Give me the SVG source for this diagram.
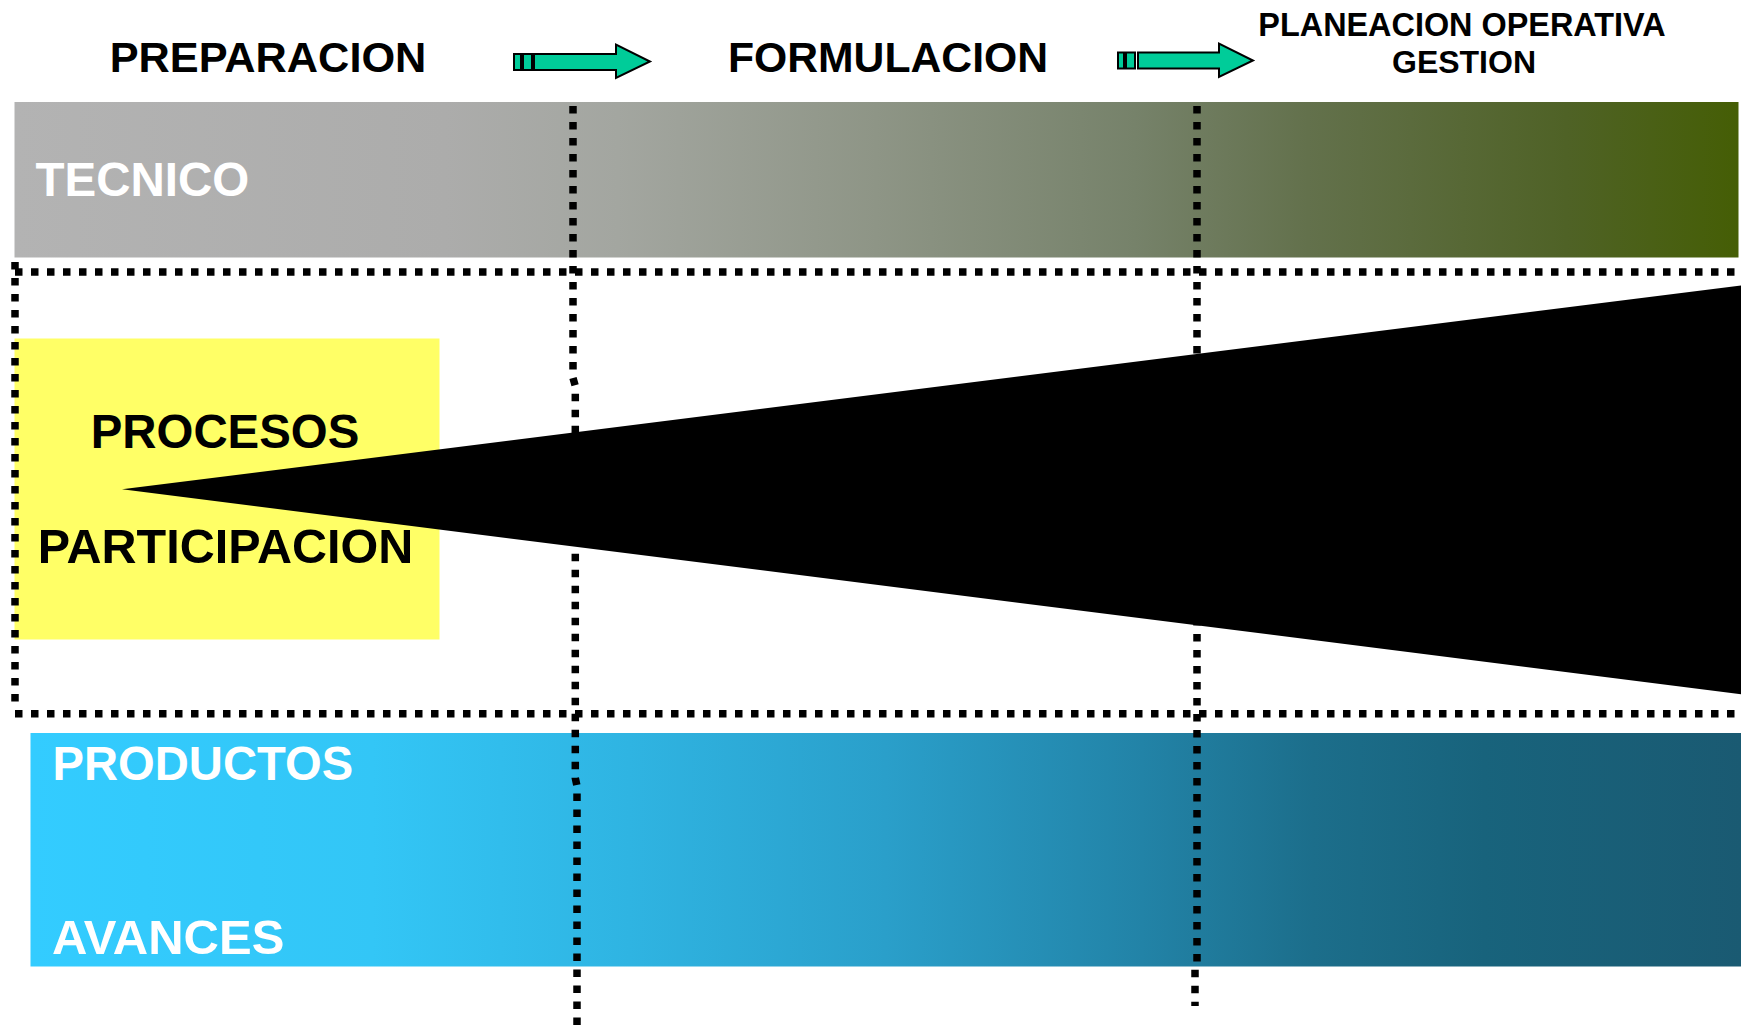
<svg xmlns="http://www.w3.org/2000/svg" width="1741" height="1031" viewBox="0 0 1741 1031">
<defs>
<linearGradient id="gGray" x1="0" y1="0" x2="1" y2="0">
<stop offset="0" stop-color="#B3B3B3"/>
<stop offset="0.25" stop-color="#ACACAB"/>
<stop offset="0.35" stop-color="#A3A6A0"/>
<stop offset="0.5" stop-color="#8E9586"/>
<stop offset="0.65" stop-color="#76826A"/>
<stop offset="0.75" stop-color="#63714C"/>
<stop offset="0.9" stop-color="#4F6226"/>
<stop offset="1" stop-color="#455E05"/>
</linearGradient>
<linearGradient id="gBlue" x1="0" y1="0" x2="1" y2="0">
<stop offset="0" stop-color="#33CCFF"/>
<stop offset="0.2" stop-color="#33C6F6"/>
<stop offset="0.35" stop-color="#2FB4E2"/>
<stop offset="0.5" stop-color="#2A9FCA"/>
<stop offset="0.65" stop-color="#2283A7"/>
<stop offset="0.75" stop-color="#1C6E8B"/>
<stop offset="0.85" stop-color="#18637C"/>
<stop offset="1" stop-color="#1A5A72"/>
</linearGradient>
<style>
.t{font-family:"Liberation Sans",Arial,sans-serif;font-weight:bold;}
.dot{fill:none;stroke:#000;stroke-width:7.5;stroke-dasharray:7.5 8.5;}
.arr{fill:#00CC99;stroke:#000;stroke-width:2;}
</style>
</defs>
<rect width="1741" height="1031" fill="#FFFFFF"/>

<g id="header">
<text class="t" x="268" y="72" font-size="43.3" text-anchor="middle">PREPARACION</text>
<text class="t" x="888" y="72" font-size="42.7" text-anchor="middle">FORMULACION</text>
<text class="t" x="1462" y="36" font-size="32.4" text-anchor="middle">PLANEACION OPERATIVA</text>
<text class="t" x="1464" y="73" font-size="32" text-anchor="middle">GESTION</text>
</g>

<g id="arrows">
<g id="arrow1">
<rect class="arr" x="514" y="54" width="7" height="16"/>
<rect class="arr" x="523" y="54" width="9" height="16"/>
<path class="arr" d="M534 54 H616 V44.5 L650 61.5 L616 78 V70 H534 Z"/>
</g>
<g id="arrow2">
<rect class="arr" x="1118" y="52.5" width="6" height="16"/>
<rect class="arr" x="1126" y="52.5" width="9" height="16"/>
<path class="arr" d="M1138 52.5 H1219 V43.5 L1253 60.5 L1219 77 V68.5 H1138 Z"/>
</g>
</g>

<g id="tecnico">
<rect x="14.5" y="102" width="1724" height="155.5" fill="url(#gGray)"/>
<text class="t" x="35.5" y="196" font-size="47.5" fill="#FFFFFF">TECNICO</text>
</g>

<g id="productos">
<rect x="30.5" y="733" width="1710.5" height="233.5" fill="url(#gBlue)"/>
<text class="t" x="52.5" y="780" font-size="47.2" fill="#FFFFFF">PRODUCTOS</text>
<text class="t" x="52" y="954" font-size="49" fill="#FFFFFF">AVANCES</text>
</g>

<g id="procesos">
<rect x="14.5" y="338.5" width="425" height="301" fill="#FFFF66"/>
<text class="t" x="225" y="448" font-size="47.4" text-anchor="middle">PROCESOS</text>
<text class="t" x="225.5" y="563" font-size="48.5" text-anchor="middle">PARTICIPACION</text>
</g>

<g id="wedge">
<polygon points="122,489.3 1741,285.5 1741,694.2" fill="#000000"/>
</g>

<g id="connectors">
<path class="dot" d="M15 272 H1741"/>
<path class="dot" d="M15 713.7 H1741"/>
<path class="dot" d="M15 262 V702"/>
<path class="dot" d="M573 106 V378 L575.3 386 V778 L577 786 V1026"/>
<path class="dot" d="M1197 106 V962 L1195 968 V1006"/>
</g>
</svg>
